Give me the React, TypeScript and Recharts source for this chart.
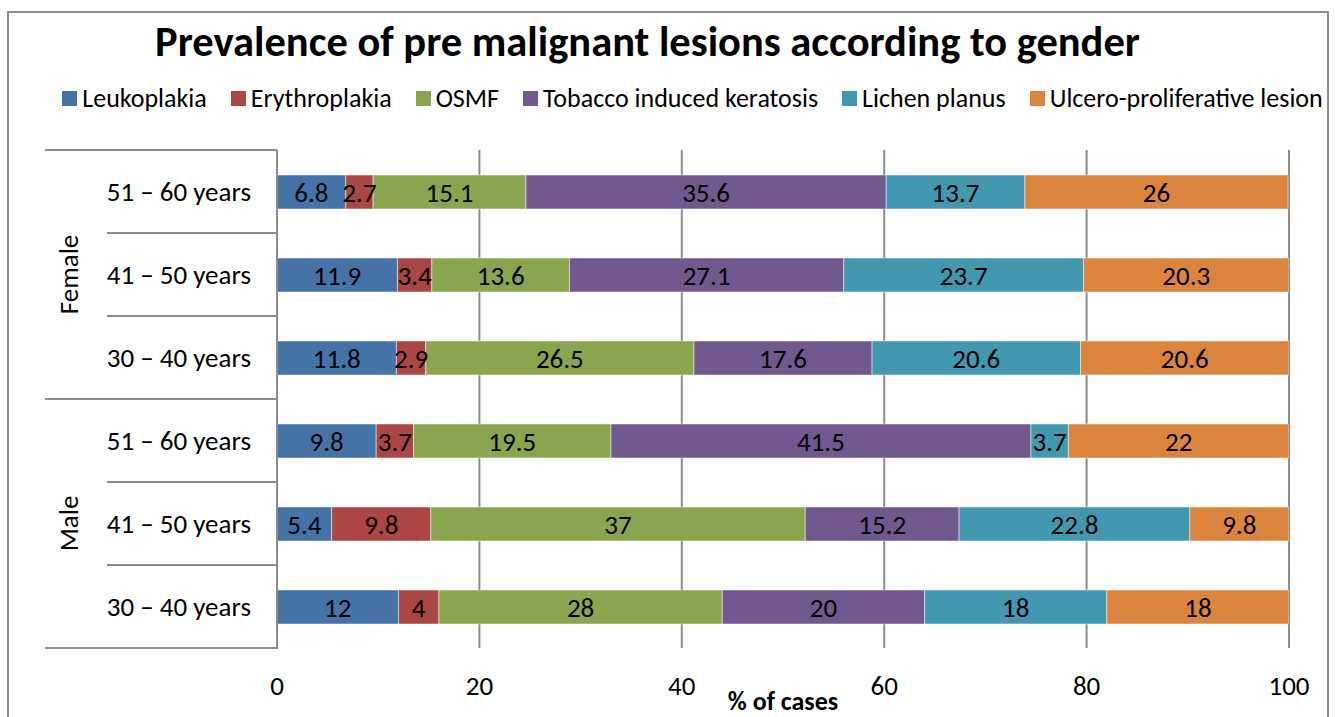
import React from 'react';
import { BarChart, Bar, XAxis, YAxis, CartesianGrid, Legend, LabelList } from 'recharts';

const ageGroups = ['51 – 60 years', '41 – 50 years', '30 – 40 years', '51 – 60 years', '41 – 50 years', '30 – 40 years'];
const genders = ['Female', 'Female', 'Female', 'Male', 'Male', 'Male'];

const leukoplakia = [6.8, 11.9, 11.8, 9.8, 5.4, 12];
const erythroplakia = [2.7, 3.4, 2.9, 3.7, 9.8, 4];
const osmf = [15.1, 13.6, 26.5, 19.5, 37, 28];
const tobacco = [35.6, 27.1, 17.6, 41.5, 15.2, 20];
const lichen = [13.7, 23.7, 20.6, 3.7, 22.8, 18];
const ulcero = [26, 20.3, 20.6, 22, 9.8, 18];

const xTicks = [0, 20, 40, 60, 80, 100];

const series = [
  { key: 'leukoplakia', name: 'Leukoplakia', color: '#4572A7', values: leukoplakia },
  { key: 'erythroplakia', name: 'Erythroplakia', color: '#AA4643', values: erythroplakia },
  { key: 'osmf', name: 'OSMF', color: '#89A54E', values: osmf },
  { key: 'tobacco', name: 'Tobacco induced keratosis', color: '#71588F', values: tobacco },
  { key: 'lichen', name: 'Lichen planus', color: '#4198AF', values: lichen },
  { key: 'ulcero', name: 'Ulcero-proliferative lesion', color: '#DB843D', values: ulcero },
];

const data = ageGroups.map((age, i) => {
  const row: any = { id: `${genders[i]}|${age}`, age, gender: genders[i] };
  series.forEach(s => { row[s.key] = s.values[i]; });
  return row;
});

const FONT = "Carlito, 'Liberation Sans Narrow', 'Open Sans', sans-serif";
const W = 1335;
const H = 717;
const TOP = 150;
const BOTTOM = 69;
const AXIS_W = 277;
const BAND = (H - TOP - BOTTOM) / ageGroups.length;
const GRID = '#8c8c8c';
const FS = 27;

function YTick(props: any) {
  const { x, y, payload, index } = props;
  const axisX = AXIS_W;
  const i = index ?? payload.index;
  const groupEnd = i === 2 || i === 5;
  const gender = genders[i];
  return (
    <g>
      {i === 0 && (
        <line x1={45} x2={axisX} y1={y - BAND / 2} y2={y - BAND / 2} stroke={GRID} strokeWidth={2} />
      )}
      <line x1={groupEnd ? 45 : 107} x2={axisX + 1} y1={y + BAND / 2} y2={y + BAND / 2} stroke={GRID} strokeWidth={2} />
      <text x={x} y={y} textAnchor="end" dominantBaseline="central" fontSize={FS} fill="#000" fontFamily={FONT}>
        {ageGroups[i]}
      </text>
      {(i === 1 || i === 4) && (
        <text
          x={68}
          y={y}
          textAnchor="middle"
          dominantBaseline="central"
          fontSize={FS}
          fill="#000"
          fontFamily={FONT}
          transform={`rotate(-90 68 ${y})`}
        >
          {gender}
        </text>
      )}
    </g>
  );
}

function LegendContent() {
  return (
    <div style={{ display: 'flex', justifyContent: 'center', gap: 24, fontFamily: FONT, fontSize: 26, color: '#000', marginLeft: 50 }}>
      {series.map(s => (
        <div key={s.key} style={{ display: 'flex', alignItems: 'center', gap: 5 }}>
          <span style={{ width: 15, height: 15, background: s.color, display: 'inline-block' }} />
          <span>{s.name}</span>
        </div>
      ))}
    </div>
  );
}

export default function App() {
  return (
    <div style={{ position: 'fixed', left: 0, top: 0, width: W, height: H, background: '#fff', overflow: 'hidden' }}>
      <div style={{ position: 'absolute', left: 7, top: 11, width: 1322, height: 720, border: '2px solid #8c8c8c', boxSizing: 'border-box' }} />
      <div style={{ position: 'absolute', left: 0, top: 16, width: 1295, textAlign: 'center', fontFamily: FONT, fontWeight: 'bold', fontSize: 42.5, lineHeight: '52px', color: '#000' }}>
        Prevalence of pre malignant lesions according to gender
      </div>
      <div style={{ position: 'absolute', left: 0, top: 0 }}>
        <BarChart width={W} height={H} data={data} layout="vertical" margin={{ top: TOP, right: 46, bottom: 0, left: 0 }} barSize={34}>
          <CartesianGrid horizontal={false} vertical stroke={GRID} strokeWidth={2} />
          <XAxis
            type="number"
            domain={[0, 100]}
            ticks={xTicks}
            allowDataOverflow
            height={BOTTOM}
            axisLine={false}
            tickLine={false}
            tickMargin={22}
            tick={{ fontSize: FS, fill: '#000', fontFamily: FONT }}
            label={{ value: '% of cases', position: 'insideBottom', offset: 7, fontSize: 26, fontWeight: 'bold', fill: '#000', fontFamily: FONT }}
          />
          <YAxis
            type="category"
            dataKey="id"
            width={AXIS_W}
            axisLine={{ stroke: GRID, strokeWidth: 2 }}
            tickLine={false}
            tickMargin={20}
            tick={<YTick />}
            interval={0}
          />
          <Legend
            verticalAlign="middle"
            align="center"
            layout="horizontal"
            wrapperStyle={{ top: 82, left: 0, width: W }}
            content={<LegendContent />}
          />
          {series.map(s => (
            <Bar key={s.key} dataKey={s.key} name={s.name} stackId="a" fill={s.color} stroke="#ffffff" strokeWidth={0.5} isAnimationActive={false}>
              <LabelList dataKey={s.key} position="center" fill="#000" fontSize={FS} fontFamily={FONT} />
            </Bar>
          ))}
        </BarChart>
      </div>
    </div>
  );
}
